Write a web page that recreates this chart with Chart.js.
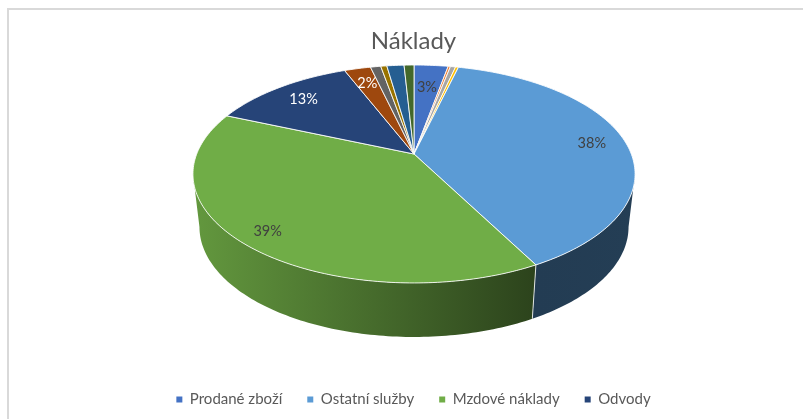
<!DOCTYPE html>
<html>
<head>
<meta charset="utf-8">
<script src="https://cdn.jsdelivr.net/npm/chart.js@4"></script>
<style>
html,body{margin:0;padding:0;background:#fff;overflow:hidden;width:803px;height:419px}
canvas{position:absolute;left:0;top:0}
#frame{position:absolute;left:7px;top:8px;right:0;bottom:0;border-left:2px solid #d9d9d9;border-top:2px solid #d9d9d9}
</style>
</head>
<body>
<div id="frame"></div>
<canvas id="c" width="803" height="419"></canvas>
<script>
// Unnamed categories are slices that the reference leaves out of its legend.
const categories = ['Prodané zboží','','','','Ostatní služby','Mzdové náklady','Odvody','','','','',''];
const values = [2.97,0.2,0.45,0.25,38.3,39.1,12.55,2.3,0.9,0.53,1.5,0.86];
const colors = ['#4472C4','#ED7D31','#A5A5A5','#FFC000','#5B9BD5','#70AD47','#264478','#9E480E','#636363','#997300','#255E91','#43682B'];
const chartTitle = 'Náklady';

const K = 0.1834;
const TOP = {x:414, y:154, rx:217.3, ry:105.3};
const BOTTOM = {x:414, y:206.8, rx:210.9, ry:106.3};
const SILHOUETTE = Math.acos(-K);
const LABEL_DEPTH = {0:0.72, 4:0.84, 5:0.88, 6:0.8, 7:0.8};

function project(ring, theta, f) {
  f = f === undefined ? 1 : f;
  const u = Math.sin(theta) * f, v = Math.cos(theta) * f, w = 1 + K * v;
  return {x: ring.x + ring.rx * u / w, y: ring.y - ring.ry * v / w};
}
function rgb(hex){return [1,3,5].map(i=>parseInt(hex.substr(i,2),16));}
function shade(hex,f){return 'rgb('+rgb(hex).map(c=>Math.round(c*f)).join(',')+')';}
function luminance(hex){const c=rgb(hex);return (0.299*c[0]+0.587*c[1]+0.114*c[2])/255;}

function rimPath(ctx, ring, a, b, move) {
  const n = Math.max(2, Math.ceil(Math.abs(b-a)/(Math.PI/180)));
  for (let i=0;i<=n;i++){
    const p = project(ring, a+(b-a)*i/n);
    if (i===0 && move) ctx.moveTo(p.x,p.y); else ctx.lineTo(p.x,p.y);
  }
}

const pie3d = {
  id:'pie3d',
  beforeDatasetsDraw(chart){
    const ctx = chart.ctx;
    const arcs = chart.getDatasetMeta(0).data;
    const colorsNow = chart.data.datasets[0].backgroundColor;
    const total = chart.data.datasets[0].data.reduce((s,v)=>s+v,0);
    const angle = t => t + Math.PI/2;
    ctx.save();
    // side wall
    const wallFrom = SILHOUETTE, wallTo = 2*Math.PI - SILHOUETTE;
    arcs.forEach((el,i)=>{
      const a = Math.max(angle(el.startAngle), wallFrom), b = Math.min(angle(el.endAngle), wallTo);
      if (b <= a) return;
      const g = ctx.createLinearGradient(193,0,635,0);
      g.addColorStop(0, shade(colorsNow[i],0.88));
      g.addColorStop(0.774, shade(colorsNow[i],0.39));
      g.addColorStop(1, shade(colorsNow[i],0.4));
      ctx.beginPath();
      rimPath(ctx,TOP,a,b,true);
      rimPath(ctx,BOTTOM,b,a,false);
      ctx.closePath();
      ctx.fillStyle = g;
      ctx.fill();
    });
    // wall separators
    ctx.strokeStyle = 'rgba(255,255,255,0.8)';
    ctx.lineWidth = 1;
    arcs.forEach(el=>{
      const a = angle(el.startAngle);
      if (a > wallFrom && a < wallTo) {
        const p = project(TOP,a), q = project(BOTTOM,a);
        ctx.beginPath(); ctx.moveTo(p.x,p.y); ctx.lineTo(q.x,q.y); ctx.stroke();
      }
    });
    // top face
    arcs.forEach((el,i)=>{
      ctx.beginPath();
      ctx.moveTo(TOP.x,TOP.y);
      rimPath(ctx,TOP,angle(el.startAngle),angle(el.endAngle),false);
      ctx.closePath();
      ctx.fillStyle = colorsNow[i];
      ctx.fill();
      ctx.strokeStyle = 'rgba(255,255,255,0.85)';
      ctx.lineWidth = 1;
      ctx.lineJoin = 'round';
      ctx.stroke();
    });
    // data labels
    ctx.font = '14.5px Lato';
    ctx.textAlign = 'center';
    ctx.textBaseline = 'middle';
    arcs.forEach((el,i)=>{
      const pct = chart.data.datasets[0].data[i]/total*100;
      if (pct < 2) return;
      const p = project(TOP,(angle(el.startAngle)+angle(el.endAngle))/2,LABEL_DEPTH[i]);
      ctx.fillStyle = luminance(colorsNow[i]) < 0.4 ? '#ffffff' : '#404040';
      ctx.fillText(Math.round(pct)+'%',p.x,p.y);
    });
    ctx.restore();
    return false;
  }
};

new Chart(document.getElementById('c'),{
  type:'pie',
  data:{labels:categories,datasets:[{data:values,backgroundColor:colors,borderWidth:0}]},
  options:{
    responsive:false,
    animation:false,
    layout:{padding:{top:27,bottom:2,left:24}},
    plugins:{
      tooltip:{enabled:false},
      title:{display:true,text:chartTitle,color:'#595959',font:{family:'Lato',size:24,weight:'normal'},padding:{top:0,bottom:0}},
      legend:{
        position:'bottom',
        labels:{
          color:'#595959',
          font:{family:'Lato',size:15},
          boxWidth:6,boxHeight:6,padding:25,
          filter:item=>item.text!==''
        }
      }
    }
  },
  plugins:[pie3d]
});
</script>
</body>
</html>
